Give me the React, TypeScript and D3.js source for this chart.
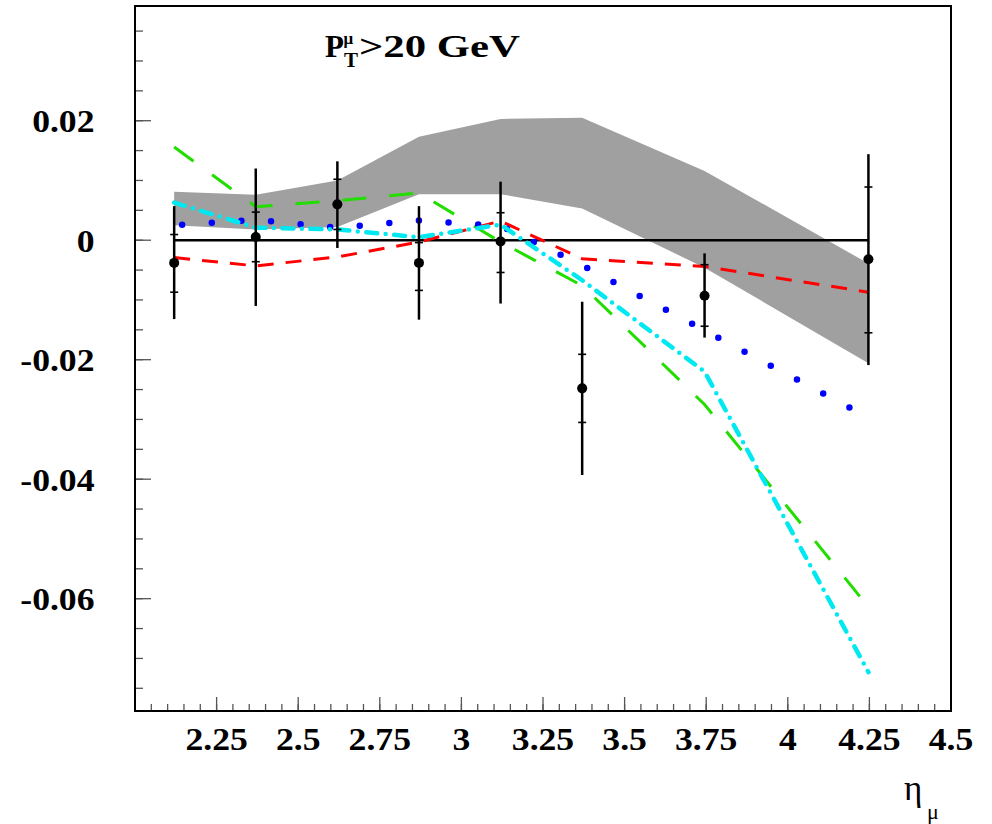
import React from 'react';
import * as d3 from 'd3';

// ---- data ----
const etaBins = [2.12, 2.37, 2.62, 2.87, 3.12, 3.37, 3.745, 4.247];
const dataValues = [-0.0038, 0.00055, 0.006, -0.0038, -0.0002, -0.0248, -0.0093, -0.0032];
const totHigh = [0.0057, 0.012, 0.0132, 0.0057, 0.0098, -0.0103, -0.0022, 0.0144];
const totLow = [-0.0132, -0.011, -0.0013, -0.0133, -0.0106, -0.0393, -0.0163, -0.0209];
const statHigh = [0.00095, 0.0047, 0.0102, -0.0004, 0.0046, -0.0191, -0.0041, 0.0089];
const statLow = [-0.0087, -0.0036, 0.0018, -0.0084, -0.0054, -0.0305, -0.0144, -0.0155];

const bandUpper = [0.0081, 0.0076, 0.01, 0.0173, 0.0203, 0.0205, 0.0116, -0.0039];
const bandLower = [0.0025, 0.0018, 0.0022, 0.0077, 0.0077, 0.0053, -0.0046, -0.0206];

const redCurve = [-0.0029, -0.0043, -0.0028, -0.0003, 0.0032, -0.0031, -0.0044, -0.0087];
const greenCurve = [0.0156, 0.0056, 0.0066, 0.0079, -0.0003, -0.0076, -0.0275, -0.0614];
const cyanCurve = [0.0063, 0.0021, 0.0018, 0.0005, 0.0026, -0.0067, -0.022, -0.0723];
const blueCurve = [0.0025, 0.0034, 0.0021, 0.0033, 0.0024, -0.0042, -0.0151, -0.0297];

const xTickLabels = ['2.25', '2.5', '2.75', '3', '3.25', '3.5', '3.75', '4', '4.25', '4.5'];
const yTickLabels = ['0.02', '0', '-0.02', '-0.04', '-0.06'];

const X0 = 135, X1 = 951, Y0 = 6, Y1 = 711;

const FONT = '"Liberation Serif", "Times New Roman", serif';

function Label({ x, y, text, anchor, size = 31, sx = 1.15 }: any) {
  return (
    <text
      transform={`translate(${x},${y}) scale(${sx},1)`}
      textAnchor={anchor}
      fontFamily={FONT}
      fontWeight="bold"
      fontSize={size}
      fill="#000"
    >
      {text}
    </text>
  );
}

export default function App() {
  const x = d3.scaleLinear().domain([2, 4.5]).range([X0, X1]);
  const y = d3.scaleLinear().domain([-0.0788, 0.0392]).range([Y1, Y0]);

  const line = d3
    .line<number>()
    .x((_, i) => x(etaBins[i]))
    .y((d) => y(d));

  const area = d3
    .area<number>()
    .x((_, i) => x(etaBins[i]))
    .y0((_, i) => y(bandLower[i]))
    .y1((d) => y(d));

  // ticks
  const yMinor = d3.range(-0.075, 0.0351, 0.005).map((v) => Math.round(v * 1000) / 1000);
  const yMajor = yTickLabels.map(Number);
  const xMinor = d3.range(2.05, 4.5001, 0.05).map((v) => Math.round(v * 100) / 100);
  const xMajor = xTickLabels.map(Number);

  return (
    <svg
      width={992}
      height={824}
      style={{ position: 'absolute', left: 0, top: 0, background: '#fff' }}
    >
      <rect x={0} y={0} width={992} height={824} fill="#fff" />

      {/* band */}
      <path d={area(bandUpper) || ''} fill="#a0a0a0" stroke="none" />

      {/* zero line */}
      <line
        x1={x(etaBins[0])}
        x2={x(etaBins[etaBins.length - 1])}
        y1={y(0)}
        y2={y(0)}
        stroke="#000"
        strokeWidth={2.5}
      />

      {/* curves */}
      <path
        d={line(redCurve) || ''}
        fill="none"
        stroke="#ff0000"
        strokeWidth={3}
        strokeDasharray="16 12"
      />
      <path
        d={line(greenCurve) || ''}
        fill="none"
        stroke="#22dd00"
        strokeWidth={3}
        strokeDasharray="24 23"
      />
      <path
        d={line(blueCurve) || ''}
        fill="none"
        stroke="#0000ff"
        strokeWidth={6.5}
        strokeLinecap="round"
        strokeDasharray="0 29.7"
        strokeDashoffset={21.7}
      />
      <path
        d={line(cyanCurve) || ''}
        fill="none"
        stroke="#00e8f0"
        strokeWidth={4.5}
        strokeLinecap="round"
        strokeDasharray="11 8.5 0 8.5"
      />

      {/* data points */}
      {etaBins.map((e, i) => {
        const cx = x(e);
        return (
          <g key={i}>
            <line x1={cx} x2={cx} y1={y(totHigh[i])} y2={y(totLow[i])} stroke="#000" strokeWidth={2.5} />
            <line x1={cx - 4} x2={cx + 4} y1={y(statHigh[i])} y2={y(statHigh[i])} stroke="#000" strokeWidth={1.6} />
            <line x1={cx - 4} x2={cx + 4} y1={y(statLow[i])} y2={y(statLow[i])} stroke="#000" strokeWidth={1.6} />
            <circle cx={cx} cy={y(dataValues[i])} r={5} fill="#000" />
          </g>
        );
      })}

      {/* y ticks */}
      {yMinor.map((v, i) => (
        <line key={'ym' + i} x1={X0} x2={X0 + 8} y1={y(v)} y2={y(v)} stroke="#555" strokeWidth={1.3} />
      ))}
      {yMajor.map((v, i) => (
        <line key={'yM' + i} x1={X0} x2={X0 + 16} y1={y(v)} y2={y(v)} stroke="#555" strokeWidth={1.3} />
      ))}
      {/* x ticks */}
      {xMinor.map((v, i) => (
        <line key={'xm' + i} x1={x(v)} x2={x(v)} y1={Y1} y2={Y1 - 7} stroke="#555" strokeWidth={1.3} />
      ))}
      {xMajor.map((v, i) => (
        <line key={'xM' + i} x1={x(v)} x2={x(v)} y1={Y1} y2={Y1 - 14} stroke="#555" strokeWidth={1.3} />
      ))}

      {/* frame */}
      <rect x={X0} y={Y0} width={X1 - X0} height={Y1 - Y0} fill="none" stroke="#000" strokeWidth={2} />

      {/* y labels */}
      {yTickLabels.map((t, i) => (
        <Label key={'yl' + i} x={94.5} y={y(Number(t)) + 11.5} text={t} anchor="end" />
      ))}
      {/* x labels */}
      {xTickLabels.map((t, i) => (
        <Label key={'xl' + i} x={x(Number(t))} y={750} text={t} anchor="middle" />
      ))}

      {/* title */}
      <text x={325} y={57} fontFamily={FONT} fontWeight="bold" fontSize={31} fill="#000">
        P
      </text>
      <text x={343.5} y={44} fontFamily={FONT} fontWeight="bold" fontSize={17} fill="#000">
        μ
      </text>
      <text x={344} y={67} fontFamily={FONT} fontWeight="bold" fontSize={21} fill="#000">
        T
      </text>
      <text
        x={359}
        y={57}
        fontFamily={FONT}
        fontWeight="bold"
        fontSize={31}
        fill="#000"
        textLength={161}
        lengthAdjust="spacingAndGlyphs"
      >
        {'>20 GeV'}
      </text>

      {/* x axis title */}
      <text x={904} y={800} fontFamily={FONT} fontSize={35} fill="#000">
        η
      </text>
      <text x={927} y={819} fontFamily={FONT} fontSize={22} fill="#000">
        μ
      </text>
    </svg>
  );
}
